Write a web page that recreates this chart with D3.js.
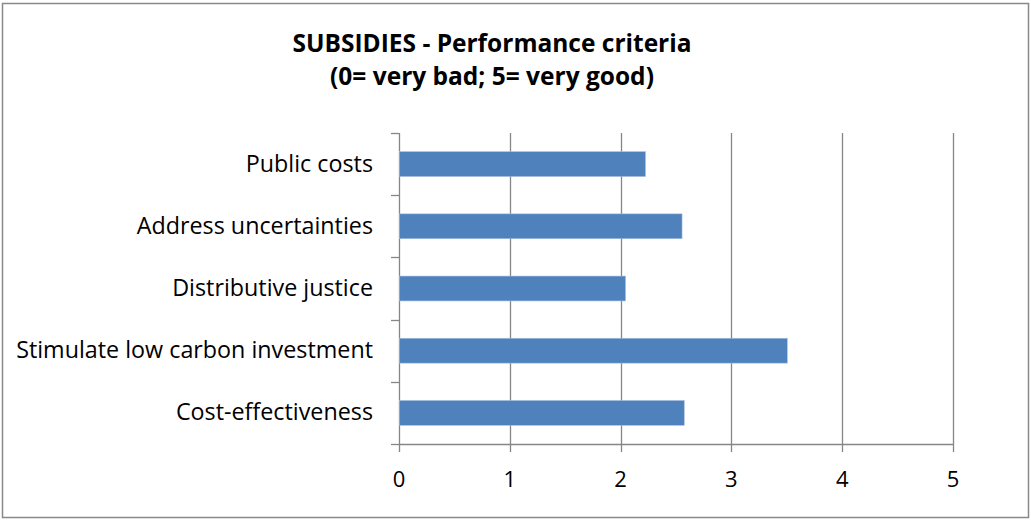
<!DOCTYPE html>
<html lang="en">
  <head>
    <meta charset="UTF-8" />
    <title>SUBSIDIES - Performance criteria</title>
    <script src="https://d3js.org/d3.v7.min.js"></script>
    <style>
      body {
        margin: 0;
        background: #fff;
      }
      svg text {
        font-family: "Open Sans", "Liberation Sans", Arial, sans-serif;
      }
    </style>
  </head>
  <body>
    <div id="chart"></div>
    <script>
      const categories = [
        "Public costs",
        "Address uncertainties",
        "Distributive justice",
        "Stimulate low carbon investment",
        "Cost-effectiveness"
      ]
      const scores = [2.22, 2.55, 2.04, 3.5, 2.57]
      const xTicks = [0, 1, 2, 3, 4, 5]
      const titleLines = ["SUBSIDIES - Performance criteria", "(0= very bad; 5= very good)"]

      const W = 1031, H = 520
      const margin = { top: 133, right: 78, bottom: 76, left: 399 }
      const width = W - margin.left - margin.right
      const height = H - margin.top - margin.bottom

      const svg = d3.select("#chart").append("svg").attr("width", W).attr("height", H)

      // outer frame
      svg.append("rect")
        .attr("x", 2.5).attr("y", 3.5)
        .attr("width", 1026).attr("height", 514)
        .attr("fill", "#fff").attr("stroke", "#898989").attr("stroke-width", 1.5)

      svg.selectAll(".title")
        .data(titleLines)
        .enter()
        .append("text")
        .attr("class", "title")
        .attr("x", 492)
        .attr("y", (d, i) => 52 + i * 33)
        .attr("text-anchor", "middle")
        .attr("font-size", 24.5)
        .attr("font-weight", "bold")
        .text(d => d)

      const g = svg.append("g").attr("transform", `translate(${margin.left},${margin.top})`)

      const x = d3.scaleLinear().domain([0, 5]).range([0, width])
      const y = d3.scaleBand().domain(categories).range([0, height]).paddingInner(0.6).paddingOuter(0.3)
      const yEdges = d3.scaleLinear().domain([0, categories.length]).range([0, height])

      // vertical gridlines with ticks below the axis
      g.selectAll(".grid")
        .data(xTicks)
        .enter()
        .append("line")
        .attr("x1", d => Math.round(x(d)) + 0.5)
        .attr("x2", d => Math.round(x(d)) + 0.5)
        .attr("y1", 0)
        .attr("y2", height + 8)
        .attr("stroke", "#868686")
        .attr("stroke-width", 1.3)

      // x axis line
      g.append("line")
        .attr("x1", 0).attr("x2", width)
        .attr("y1", height + 0.5).attr("y2", height + 0.5)
        .attr("stroke", "#868686").attr("stroke-width", 1.3)

      // y axis category tick marks
      g.selectAll(".ytick")
        .data(d3.range(categories.length + 1))
        .enter()
        .append("line")
        .attr("x1", -8).attr("x2", 0)
        .attr("y1", d => Math.round(yEdges(d)) + 0.5)
        .attr("y2", d => Math.round(yEdges(d)) + 0.5)
        .attr("stroke", "#868686").attr("stroke-width", 1.3)

      g.selectAll(".bar")
        .data(categories)
        .enter()
        .append("rect")
        .attr("x", 0.5)
        .attr("y", d => y(d))
        .attr("width", (d, i) => x(scores[i]))
        .attr("height", y.bandwidth())
        .attr("fill", "#4f81bd")
        .attr("stroke", "#a7bfde")
        .attr("stroke-width", 0.6)

      g.selectAll(".ylabel")
        .data(categories)
        .enter()
        .append("text")
        .attr("x", -26)
        .attr("y", d => y(d) + y.bandwidth() / 2 + 7.5)
        .attr("text-anchor", "end")
        .attr("font-size", 23.3)
        .attr("fill", "#000")
        .text(d => d)

      g.selectAll(".xlabel")
        .data(xTicks)
        .enter()
        .append("text")
        .attr("x", d => x(d))
        .attr("y", height + 43)
        .attr("text-anchor", "middle")
        .attr("font-size", 22)
        .text(d => d)
    </script>
  </body>
</html>
